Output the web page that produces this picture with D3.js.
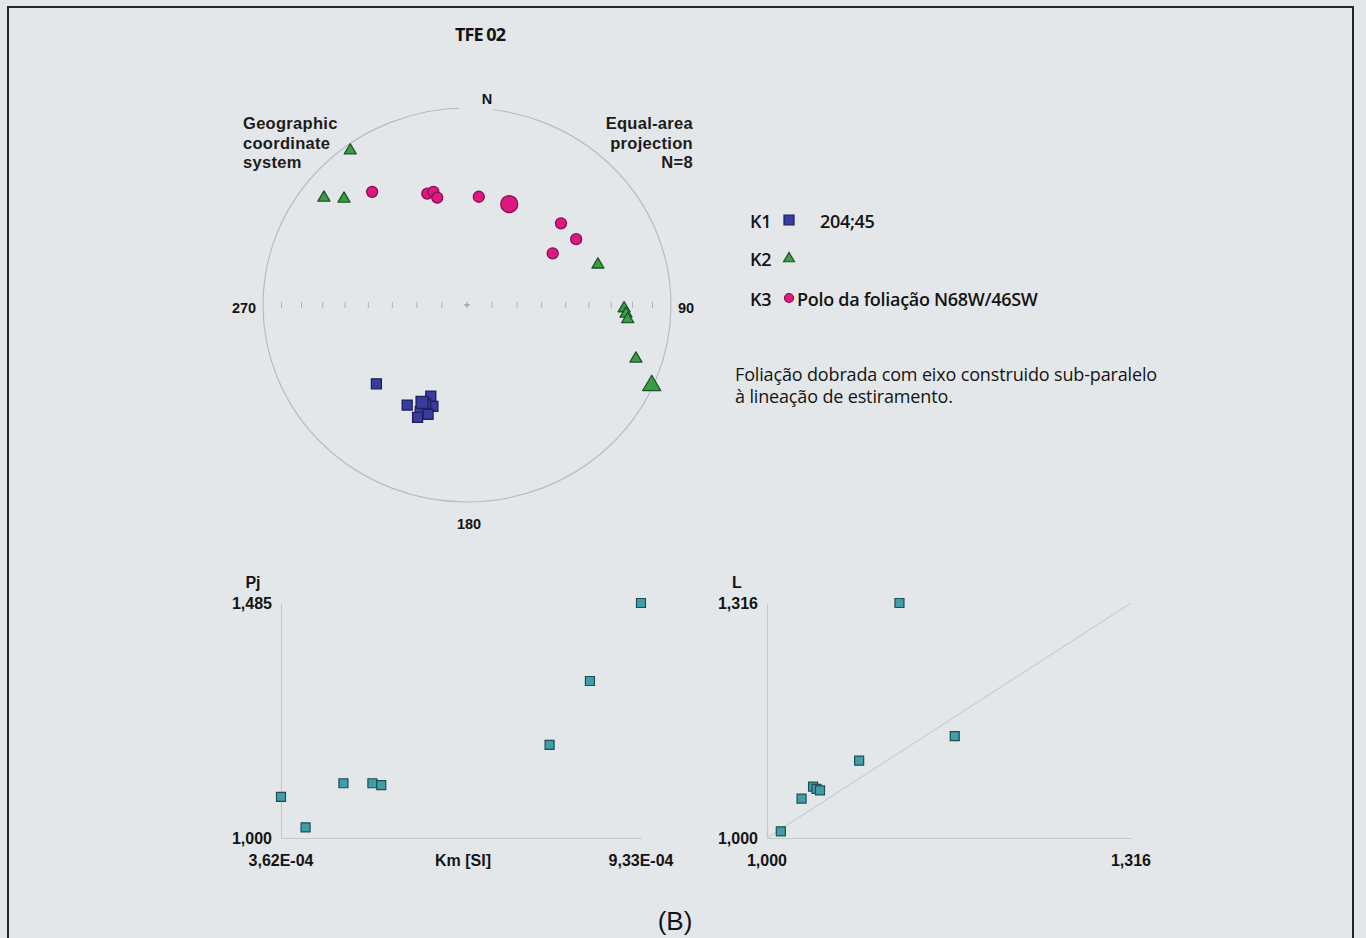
<!DOCTYPE html>
<html>
<head>
<meta charset="utf-8">
<script src="https://cdn.jsdelivr.net/npm/d3@7"></script>
<style>
  html, body { margin: 0; padding: 0; background: #e4e7ea; }
  svg { display: block; }
</style>
</head>
<body>
<svg id="fig" width="1366" height="938"></svg>
<script>
// ---- AMS principal axes (trend / plunge, degrees) ----
const k1Trend  = [228, 210, 201, 198, 202, 203, 199, 203];
const k1Plunge = [ 40,  41,  49,  45,  45,  41,  41,  38];
const k1Mean   = { trend: 204, plunge: 45 };

const k2Trend  = [324, 308, 312,  72,  91,  93,  95, 108];
const k2Plunge = [  3,  12,  20,  33,  24,  23,  22,  14];
const k2Mean   = { trend: 114, plunge: 1 };

const k3Trend  = [321, 341, 344, 345,   6,  48,  58,  58];
const k3Plunge = [ 27,  40,  40,  43,  44,  38,  37,  49];

// Foliation N68W/46SW -> strike 292, dipping 46 towards SW
const foliation = { strike: 292, dip: 46 };

// ---- Scalar parameters per specimen ----
const kmValues = [3.62e-4, 4.01e-4, 4.61e-4, 5.07e-4, 5.21e-4, 7.88e-4, 8.52e-4, 9.33e-4];
const pjValues = [1.085, 1.022, 1.113, 1.113, 1.109, 1.192, 1.324, 1.485];
const fValues  = [1.012, 1.030, 1.040, 1.043, 1.046, 1.080, 1.115, 1.163];
const lValues  = [1.009, 1.053, 1.069, 1.066, 1.064, 1.104, 1.316, 1.137];

const kmDomain = [3.62e-4, 9.33e-4];
const pjDomain = [1.000, 1.485];
const flDomain = [1.000, 1.316];

const kmTickLabels = ["3,62E-04", "9,33E-04"];
const pjTickLabels = ["1,000", "1,485"];
const flTickLabels = ["1,000", "1,316"];

const compassLabels = ["N", "90", "180", "270"];
const legendKeys  = ["K1", "K2", "K3"];
const legendNotes = ["204;45", "", "Polo da foliação N68W/46SW"];
const commentLines = ["Foliação dobrada com eixo construido sub-paralelo",
                      "à lineação de estiramento."];
const gradPlunges = [80, 70, 60, 50, 40, 30, 20, 10];

// ---- styling ----
const BG = "#e4e7ea";
const SANS = "'Liberation Sans', Arial, sans-serif";
const HUM  = "'Open Sans', 'Noto Sans', sans-serif";
const INK = "#141414";
const C = {
  k1: { fill: "#383c9c", stroke: "#1c1f5c" },
  k2: { fill: "#3c9c44", stroke: "#1d5524" },
  k3: { fill: "#de1781", stroke: "#86104c" },
  sc: { fill: "#3f9ea6", stroke: "#1e4d55" }
};

const svg = d3.select("#fig");
svg.append("rect").attr("width", 1366).attr("height", 938).attr("fill", BG);

// frame
svg.append("path")
  .attr("d", "M8,945 L8,7 L1353,7 L1353,945")
  .attr("fill", "none").attr("stroke", "#262626").attr("stroke-width", 2);

// title
svg.append("text").attr("x", 480).attr("y", 41)
  .attr("text-anchor", "middle")
  .style("font", `700 18px ${HUM}`).style("letter-spacing", "-0.9px")
  .attr("fill", INK).text("TFE 02");

// ================= Stereonet (equal-area, lower hemisphere) =================
const net = { cx: 467, cy: 305, rx: 204, ry: 197 };
const sx = d3.scaleLinear().domain([-1, 1]).range([net.cx - net.rx, net.cx + net.rx]);
const sy = d3.scaleLinear().domain([-1, 1]).range([net.cy + net.ry, net.cy - net.ry]);
const rad = d => d * Math.PI / 180;
// Lambert azimuthal equal-area radius for a line of given plunge
const eaRadius = plunge => Math.SQRT2 * Math.sin(rad((90 - plunge) / 2));
function project(trend, plunge) {
  const r = Math.min(eaRadius(plunge), 0.995);
  return [sx(r * Math.sin(rad(trend))), sy(r * Math.cos(rad(trend)))];
}

const gNet = svg.append("g");
gNet.append("ellipse")
  .attr("cx", sx(0)).attr("cy", sy(0))
  .attr("rx", sx(1) - sx(0)).attr("ry", sy(-1) - sy(0))
  .attr("fill", "none").attr("stroke", "#b7bcc3").attr("stroke-width", 1.2);
// opening in the circle under the north label
gNet.append("rect").attr("x", 459).attr("y", 90).attr("width", 34).attr("height", 21).attr("fill", BG);

// plunge graduations along the E-W diameter
const grads = [];
gradPlunges.forEach(p => { grads.push(eaRadius(p)); grads.push(-eaRadius(p)); });
gNet.selectAll("line.grad").data(grads).join("line")
  .attr("class", "grad")
  .attr("x1", d => sx(d)).attr("x2", d => sx(d))
  .attr("y1", sy(0) - 3).attr("y2", sy(0) + 3)
  .attr("stroke", "#adb1b7").attr("stroke-width", 1);
gNet.append("path")
  .attr("d", `M${sx(0) - 3},${sy(0)}H${sx(0) + 3}M${sx(0)},${sy(0) - 3}V${sy(0) + 3}`)
  .attr("stroke", "#8d9197").attr("stroke-width", 1);

// compass labels
const compassPos = {
  "N":   [487, 104],
  "90":  [686, 313],
  "180": [469, 529],
  "270": [244, 313]
};
gNet.selectAll("text.cmp").data(compassLabels).join("text")
  .attr("class", "cmp")
  .attr("x", d => compassPos[d][0]).attr("y", d => compassPos[d][1])
  .attr("text-anchor", "middle")
  .style("font", `700 14.5px ${SANS}`).attr("fill", INK)
  .text(d => d);

// corner notes
const leftNote = ["Geographic", "coordinate", "system"];
const rightNote = ["Equal-area", "projection", "N=8"];
gNet.selectAll("text.ln").data(leftNote).join("text")
  .attr("class", "ln").attr("x", 243).attr("y", (d, i) => 129 + i * 19.5)
  .style("font", `700 16.5px ${SANS}`).style("letter-spacing", "0.3px")
  .attr("fill", "#1c1c1c").text(d => d);
gNet.selectAll("text.rn").data(rightNote).join("text")
  .attr("class", "rn").attr("x", 693).attr("y", (d, i) => 129 + i * 19.5)
  .attr("text-anchor", "end")
  .style("font", `700 16.5px ${SANS}`).style("letter-spacing", "0.3px")
  .attr("fill", "#1c1c1c").text(d => d);

// symbol generators
const sqPath = s => `M${-s / 2},${-s / 2}h${s}v${s}h${-s}Z`;
const triPath = w => { const h = w * 0.85; return `M0,${-h * 0.6}L${w / 2},${h * 0.4}L${-w / 2},${h * 0.4}Z`; };

const k1 = k1Trend.map((t, i) => ({ trend: t, plunge: k1Plunge[i] }));
const k2 = k2Trend.map((t, i) => ({ trend: t, plunge: k2Plunge[i] }));
const k3 = k3Trend.map((t, i) => ({ trend: t, plunge: k3Plunge[i] }));
// SW dip: dip direction is strike - 90; the pole points the opposite way
const dipDir = (foliation.strike + 270) % 360;
const pole = { trend: (dipDir + 180) % 360, plunge: 90 - foliation.dip };

// K3 circles
gNet.selectAll("circle.k3").data(k3.concat([Object.assign({ big: true }, pole)])).join("circle")
  .attr("class", "k3")
  .attr("cx", d => project(d.trend, d.plunge)[0])
  .attr("cy", d => project(d.trend, d.plunge)[1])
  .attr("r", d => d.big ? 8.5 : 5.5)
  .attr("fill", C.k3.fill).attr("stroke", C.k3.stroke).attr("stroke-width", 1.3);

// K2 triangles
gNet.selectAll("path.k2").data(k2.concat([Object.assign({ big: true }, k2Mean)])).join("path")
  .attr("class", "k2")
  .attr("transform", d => `translate(${project(d.trend, d.plunge)})`)
  .attr("d", d => triPath(d.big ? 18 : 12))
  .attr("fill", C.k2.fill).attr("stroke", C.k2.stroke).attr("stroke-width", 1.3)
  .attr("stroke-linejoin", "round");

// K1 squares
gNet.selectAll("path.k1").data(k1.concat([Object.assign({ big: true }, k1Mean)])).join("path")
  .attr("class", "k1")
  .attr("transform", d => `translate(${project(d.trend, d.plunge)})`)
  .attr("d", d => sqPath(d.big ? 12 : 10))
  .attr("fill", C.k1.fill).attr("stroke", C.k1.stroke).attr("stroke-width", 1.3);

// ================= Legend =================
const gLeg = svg.append("g");
const legY = [221, 259, 299];
gLeg.selectAll("text.key").data(legendKeys).join("text")
  .attr("class", "key").attr("x", 750).attr("y", (d, i) => legY[i] + 6.5)
  .style("font", `600 18px ${HUM}`).style("letter-spacing", "-0.3px")
  .attr("fill", INK).text(d => d);
gLeg.append("path").attr("transform", `translate(789,${legY[0] - 1})`).attr("d", sqPath(10))
  .attr("fill", C.k1.fill).attr("stroke", C.k1.stroke).attr("stroke-width", 1.2);
gLeg.append("path").attr("transform", `translate(789,${legY[1] - 1})`).attr("d", triPath(11))
  .attr("fill", C.k2.fill).attr("stroke", C.k2.stroke).attr("stroke-width", 1.2);
gLeg.append("circle").attr("cx", 789).attr("cy", legY[2] - 1).attr("r", 4.5)
  .attr("fill", C.k3.fill).attr("stroke", C.k3.stroke).attr("stroke-width", 1.2);
const noteX = [820, 820, 797];
gLeg.selectAll("text.note").data(legendNotes).join("text")
  .attr("class", "note").attr("x", (d, i) => noteX[i]).attr("y", (d, i) => legY[i] + 6.5)
  .style("font", `600 18px ${HUM}`).style("letter-spacing", "-0.3px")
  .attr("fill", INK).text(d => d);
gLeg.selectAll("text.com").data(commentLines).join("text")
  .attr("class", "com").attr("x", 735).attr("y", (d, i) => 381 + i * 22)
  .style("font", `500 18px ${HUM}`).style("letter-spacing", "-0.15px")
  .attr("fill", INK).text(d => d);

// ================= Scatter plots =================
const axisColor = "#c3c6ca";
function scatter(cfg) {
  const g = svg.append("g");
  const x = d3.scaleLinear().domain(cfg.xDomain).range(cfg.xRange);
  const y = d3.scaleLinear().domain(cfg.yDomain).range(cfg.yRange);
  const xAxis = d3.axisBottom(x).tickValues(cfg.xDomain).tickSize(0).tickFormat(() => "");
  const yAxis = d3.axisLeft(y).tickValues(cfg.yDomain).tickSize(0).tickFormat(() => "");
  const gx = g.append("g").attr("transform", `translate(0,${cfg.yRange[0]})`).call(xAxis);
  const gy = g.append("g").attr("transform", `translate(${cfg.xRange[0]},0)`).call(yAxis);
  [gx, gy].forEach(a => a.select(".domain").attr("stroke", axisColor).attr("stroke-width", 1.2));
  if (cfg.diagonal) {
    g.append("line")
      .attr("x1", x(cfg.xDomain[0])).attr("y1", y(cfg.yDomain[0]))
      .attr("x2", x(cfg.xDomain[1])).attr("y2", y(cfg.yDomain[1]))
      .attr("stroke", "#c9ccd0").attr("stroke-width", 1.2);
  }
  // y tick labels
  g.selectAll("text.yl").data(cfg.yDomain).join("text")
    .attr("class", "yl").attr("x", cfg.xRange[0] - 9).attr("y", d => y(d) + 5.5)
    .attr("text-anchor", "end")
    .style("font", `700 16px ${SANS}`).attr("fill", INK)
    .text((d, i) => cfg.yLabels[i]);
  // x tick labels
  g.selectAll("text.xl").data(cfg.xDomain).join("text")
    .attr("class", "xl").attr("x", d => x(d)).attr("y", cfg.yRange[0] + 28)
    .attr("text-anchor", "middle")
    .style("font", `700 16px ${SANS}`).attr("fill", INK)
    .text((d, i) => cfg.xLabels[i]);
  g.append("text").attr("x", cfg.yTitlePos[0]).attr("y", cfg.yTitlePos[1])
    .attr("text-anchor", "middle")
    .style("font", `700 16px ${SANS}`).attr("fill", INK).text(cfg.yTitle);
  if (cfg.xTitle) {
    g.append("text").attr("x", d3.mean(cfg.xRange) + 2).attr("y", cfg.yRange[0] + 28)
      .attr("text-anchor", "middle")
      .style("font", `700 16px ${SANS}`).attr("fill", INK).text(cfg.xTitle);
  }
  g.selectAll("path.pt").data(cfg.xs.map((v, i) => [v, cfg.ys[i]])).join("path")
    .attr("class", "pt")
    .attr("transform", d => `translate(${x(d[0])},${y(d[1])})`)
    .attr("d", sqPath(9))
    .attr("fill", C.sc.fill).attr("stroke", C.sc.stroke).attr("stroke-width", 1.2);
}

scatter({
  xDomain: kmDomain, yDomain: pjDomain,
  xRange: [281, 641], yRange: [838, 603],
  xs: kmValues, ys: pjValues,
  xLabels: kmTickLabels, yLabels: pjTickLabels,
  yTitle: "Pj", yTitlePos: [253, 588], xTitle: "Km [SI]"
});
scatter({
  xDomain: flDomain, yDomain: flDomain,
  xRange: [767, 1131], yRange: [838, 603],
  xs: fValues, ys: lValues,
  xLabels: flTickLabels, yLabels: flTickLabels,
  yTitle: "L", yTitlePos: [737, 588], diagonal: true
});

// panel tag
svg.append("text").attr("x", 675).attr("y", 930).attr("text-anchor", "middle")
  .style("font", `400 26px ${SANS}`).attr("fill", INK).text("(B)");
</script>
</body>
</html>
